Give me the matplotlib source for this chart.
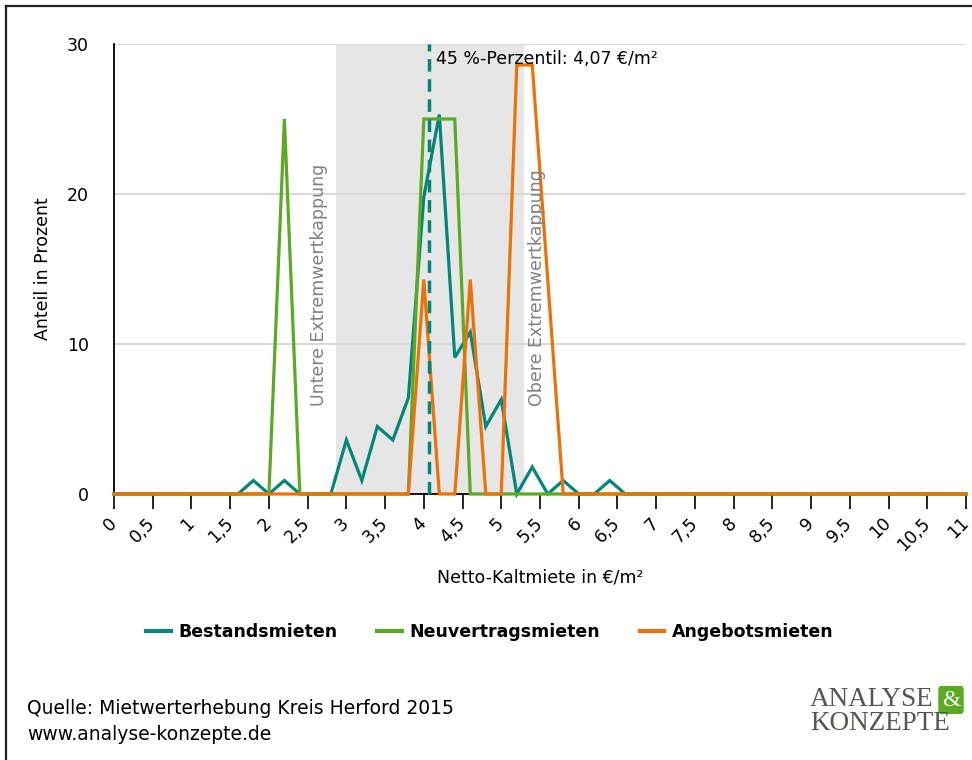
import matplotlib as mpl
import matplotlib.pyplot as plt
import numpy as np
from matplotlib.lines import Line2D

mpl.rcParams["font.family"] = "DejaVu Sans"

# Price classes (EUR/m², 0.2 steps) and shares in percent
preis = np.round(np.arange(0, 11.01, 0.2), 1)
bestandsmieten = [
    0, 0, 0, 0, 0, 0, 0, 0, 0, 0.9, 0, 0.9, 0, 0,
    0, 3.6, 0.9, 4.5, 3.6, 6.4, 19.8, 25.3, 9.1, 10.8, 4.5, 6.3, 0, 1.8,
    0, 0.9, 0, 0, 0.9, 0, 0, 0, 0, 0, 0, 0, 0, 0,
    0, 0, 0, 0, 0, 0, 0, 0, 0, 0, 0, 0, 0, 0,
]
neuvertragsmieten = [
    0, 0, 0, 0, 0, 0, 0, 0, 0, 0, 0, 25, 0, 0,
    0, 0, 0, 0, 0, 0, 25, 25, 25, 0, 0, 0, 0, 0,
    0, 0, 0, 0, 0, 0, 0, 0, 0, 0, 0, 0, 0, 0,
    0, 0, 0, 0, 0, 0, 0, 0, 0, 0, 0, 0, 0, 0,
]
angebotsmieten = [
    0, 0, 0, 0, 0, 0, 0, 0, 0, 0, 0, 0, 0, 0,
    0, 0, 0, 0, 0, 0, 14.3, 0, 0, 14.3, 0, 0, 28.6, 28.6,
    14.3, 0, 0, 0, 0, 0, 0, 0, 0, 0, 0, 0, 0, 0,
    0, 0, 0, 0, 0, 0, 0, 0, 0, 0, 0, 0, 0, 0,
]
serien = ["Bestandsmieten", "Neuvertragsmieten", "Angebotsmieten"]
kappung_unten, kappung_oben = 2.86, 5.29
perzentil = 4.07
xticks = np.arange(0, 11.01, 0.5)
xticklabels = [f"{v:g}".replace(".", ",") for v in xticks]

farben = ["#00877A", "#5BAA23", "#EE7203"]
fs = 12.5

fig = plt.figure(figsize=(9.72, 7.6), dpi=100)
ax = fig.add_axes([114 / 972, 1 - 494 / 760, (966 - 114) / 972, 450 / 760])

ax.axvspan(kappung_unten, kappung_oben, color="#e6e6e6", lw=0, zorder=0)
ax.set_axisbelow(True)
ax.yaxis.grid(True, color="#d9d9d9", lw=1.5, zorder=0.5)

for werte, farbe, name in zip([bestandsmieten, neuvertragsmieten, angebotsmieten], farben, serien):
    ax.plot(preis, werte, color=farbe, lw=2.3, label=name, clip_on=False, zorder=3,
            solid_joinstyle="miter")

ax.plot([perzentil, perzentil], [0, 30], color="#00877A", lw=2.5, dashes=(3.6, 2.2), zorder=4,
        clip_on=False)
ax.text(perzentil + 0.09, 29.0, "45 %-Perzentil: 4,07 €/m²", fontsize=fs, va="center", ha="left")
ax.text(kappung_unten - 0.1, 5.9, "Untere Extremwertkappung", rotation=90, color="#808080",
        fontsize=fs, ha="right", va="bottom")
ax.text(kappung_oben + 0.06, 5.9, "Obere Extremwertkappung", rotation=90, color="#808080",
        fontsize=fs, ha="left", va="bottom")

ax.set_xlim(0, 11)
ax.set_ylim(0, 30)
ax.set_yticks([0, 10, 20, 30])
ax.set_xticks(xticks)
ax.set_xticklabels(xticklabels, rotation=45, ha="right", va="center", rotation_mode="anchor")
ax.tick_params(axis="x", length=11, width=1.2, color="black", pad=8, labelsize=fs)
ax.tick_params(axis="y", length=0, pad=18, labelsize=fs)
for s in ["top", "right"]:
    ax.spines[s].set_visible(False)
ax.spines["left"].set_linewidth(1.3)
ax.spines["bottom"].set_linewidth(1.3)

ax.set_xlabel("Netto-Kaltmiete in €/m²", fontsize=fs)
ax.xaxis.set_label_coords(0.5, -(569 - 494) / 450)
ax.set_ylabel("Anteil in Prozent", fontsize=fs)
ax.yaxis.set_label_coords(-(114 - 52) / 852, 0.5)

handles = [Line2D([], [], color=f, lw=3) for f in farben]
fig.legend(handles, serien, loc="center", bbox_to_anchor=(490 / 972, 1 - 632 / 760), ncol=3,
           frameon=False, prop={"weight": "bold", "size": fs}, handlelength=1.4,
           handletextpad=0.45, columnspacing=2.3)

fig.text(27 / 972, 1 - 708 / 760, "Quelle: Mietwerterhebung Kreis Herford 2015", fontsize=13.5,
         va="center", ha="left")
fig.text(27 / 972, 1 - 734 / 760, "www.analyse-konzepte.de", fontsize=13.5, va="center", ha="left")

# logo
fig.text(810 / 972, 1 - 700 / 760, "ANALYSE", family="Liberation Serif", fontsize=19.5,
         color="#55574f", va="center", ha="left")
fig.text(951 / 972, 1 - 700 / 760, "&", family="Liberation Serif", fontsize=17, color="white",
         va="center", ha="center",
         bbox=dict(boxstyle="round,pad=0.15,rounding_size=0.15", fc="#5BAA23", ec="none"))
fig.text(810 / 972, 1 - 724 / 760, "KONZEPTE", family="Liberation Serif", fontsize=19.5,
         color="#55574f", va="center", ha="left")

# outer frame
fig.add_artist(Line2D([6 / 972, 1], [1 - 6 / 760] * 2, color="#222222", lw=1.6,
                      transform=fig.transFigure))
fig.add_artist(Line2D([6 / 972] * 2, [0, 1 - 6 / 760], color="#222222", lw=1.6,
                      transform=fig.transFigure))

fig.savefig("out.png", dpi=100)
